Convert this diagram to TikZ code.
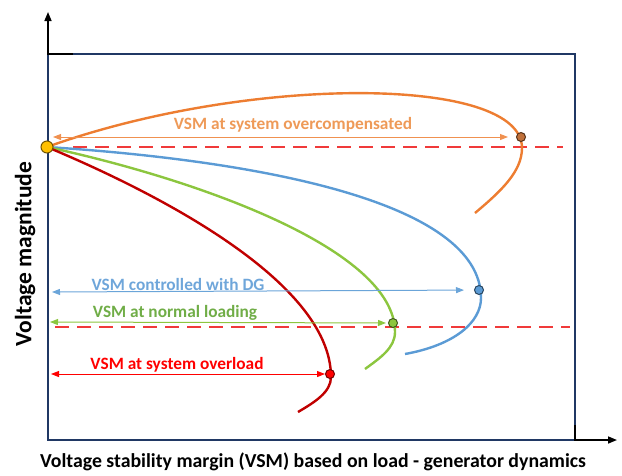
\documentclass[tikz,border=0pt]{standalone}
\usepackage{fontspec}
\setmainfont{Carlito}
\usetikzlibrary{arrows.meta}
\definecolor{boxnavy}{HTML}{203864}
\definecolor{curveorange}{HTML}{ED7D31}
\definecolor{textorange}{HTML}{EE9A58}
\definecolor{curveblue}{HTML}{5B9BD5}
\definecolor{textblue}{HTML}{6FA6DA}
\definecolor{curvegreen}{HTML}{8CC63F}
\definecolor{textgreen}{HTML}{70AD47}
\definecolor{curvered}{HTML}{C00000}
\definecolor{vsmred}{HTML}{FF0000}
\definecolor{dashred}{HTML}{F03A3A}
\definecolor{dotyellow}{HTML}{FFC000}
\definecolor{dotorange}{HTML}{C0703A}
\tikzset{
  pvcurve/.style={line width=2.4pt},
  vsmarrow/.style={line width=1pt,
    {Triangle[length=8pt,width=6pt]}-{Triangle[length=8pt,width=6pt]}},
  limitline/.style={draw=dashred, line width=2.4pt, dash pattern=on 14pt off 8pt},
  nose/.style={circle, draw=#1!45!black, fill=#1, line width=1pt,
    inner sep=0pt, minimum size=9pt},
  vsmlabel/.style={font=\bfseries\fontsize{17.3}{20}\selectfont}
}

\begin{document}
\begin{tikzpicture}[x=1pt, y=-1pt]
\useasboundingbox (0,0) rectangle (622,475);
% frame and axes
\draw[boxnavy, line width=2pt] (48,54) rectangle (575,440);
\draw[line width=1.6pt, -{Triangle[length=9pt,width=7pt]}] (73,54) -- (48,54) -- (48,12);
\draw[line width=1.6pt, -{Triangle[length=9pt,width=7pt]}] (575,425) -- (575,440) -- (617,440);
% stability limits
\draw[limitline] (73,147) -- (563,147);
\draw[limitline] (55,327) -- (570,327);
% PV curves
\coordinate (p0) at (47,147);
\draw[pvcurve, curveorange] (p0) .. controls (247,75) and (522,75) .. (522,148)
  .. controls (522,172) and (500,192) .. (475,213);
\draw[pvcurve, curveblue] (p0) .. controls (250,160) and (481,200) .. (481,298)
  .. controls (481,322) and (455,345) .. (405,354);
\draw[pvcurve, curvegreen] (p0) .. controls (200,180) and (395,250) .. (395,332)
  .. controls (395,348) and (380,358) .. (365,369);
\draw[pvcurve, curvered] (p0) .. controls (150,190) and (331,280) .. (331,377)
  .. controls (331,392) and (315,402) .. (298,412);
% operating points
\node[nose=dotyellow, minimum size=12pt] (start) at (p0) {};
\node[nose=dotorange] (n-over) at (521,137) {};
\node[nose=curveblue] (n-dg) at (479,290) {};
\node[nose=curvegreen] (n-normal) at (393,323) {};
\node[nose=vsmred] (n-load) at (330,374) {};
% margins
\coordinate (l-over) at (53,137);
\coordinate (l-dg) at (52,292);
\coordinate (l-normal) at (50,322);
\coordinate (l-load) at (51,374);
\draw[vsmarrow, curveorange!85!white, shorten >=8pt] (l-over) -- (n-over);
\draw[vsmarrow, curveblue!90!white, shorten >=10pt] (l-dg) -- (n-dg);
\draw[vsmarrow, curvegreen, shorten >=2pt] (l-normal) -- (n-normal);
\draw[vsmarrow, vsmred] (l-load) -- (n-load);
\node[vsmlabel, textorange] (t-over) at (293,125) {VSM at system overcompensated};
\node[vsmlabel, textblue] (t-dg) at (178,284) {VSM controlled with DG};
\node[vsmlabel, textgreen] (t-normal) at (175,313) {VSM at normal loading};
\node[vsmlabel, vsmred] (t-load) at (177,365) {VSM at system overload};
% axis titles
\node[font=\bfseries\fontsize{23.5}{26}\selectfont, rotate=90] (ylab) at (25,254) {Voltage magnitude};
\node[font=\bfseries\fontsize{19.8}{22}\selectfont] (xlab) at (313,462)
  {Voltage stability margin (VSM) based on load - generator dynamics};
\end{tikzpicture}
\end{document}
